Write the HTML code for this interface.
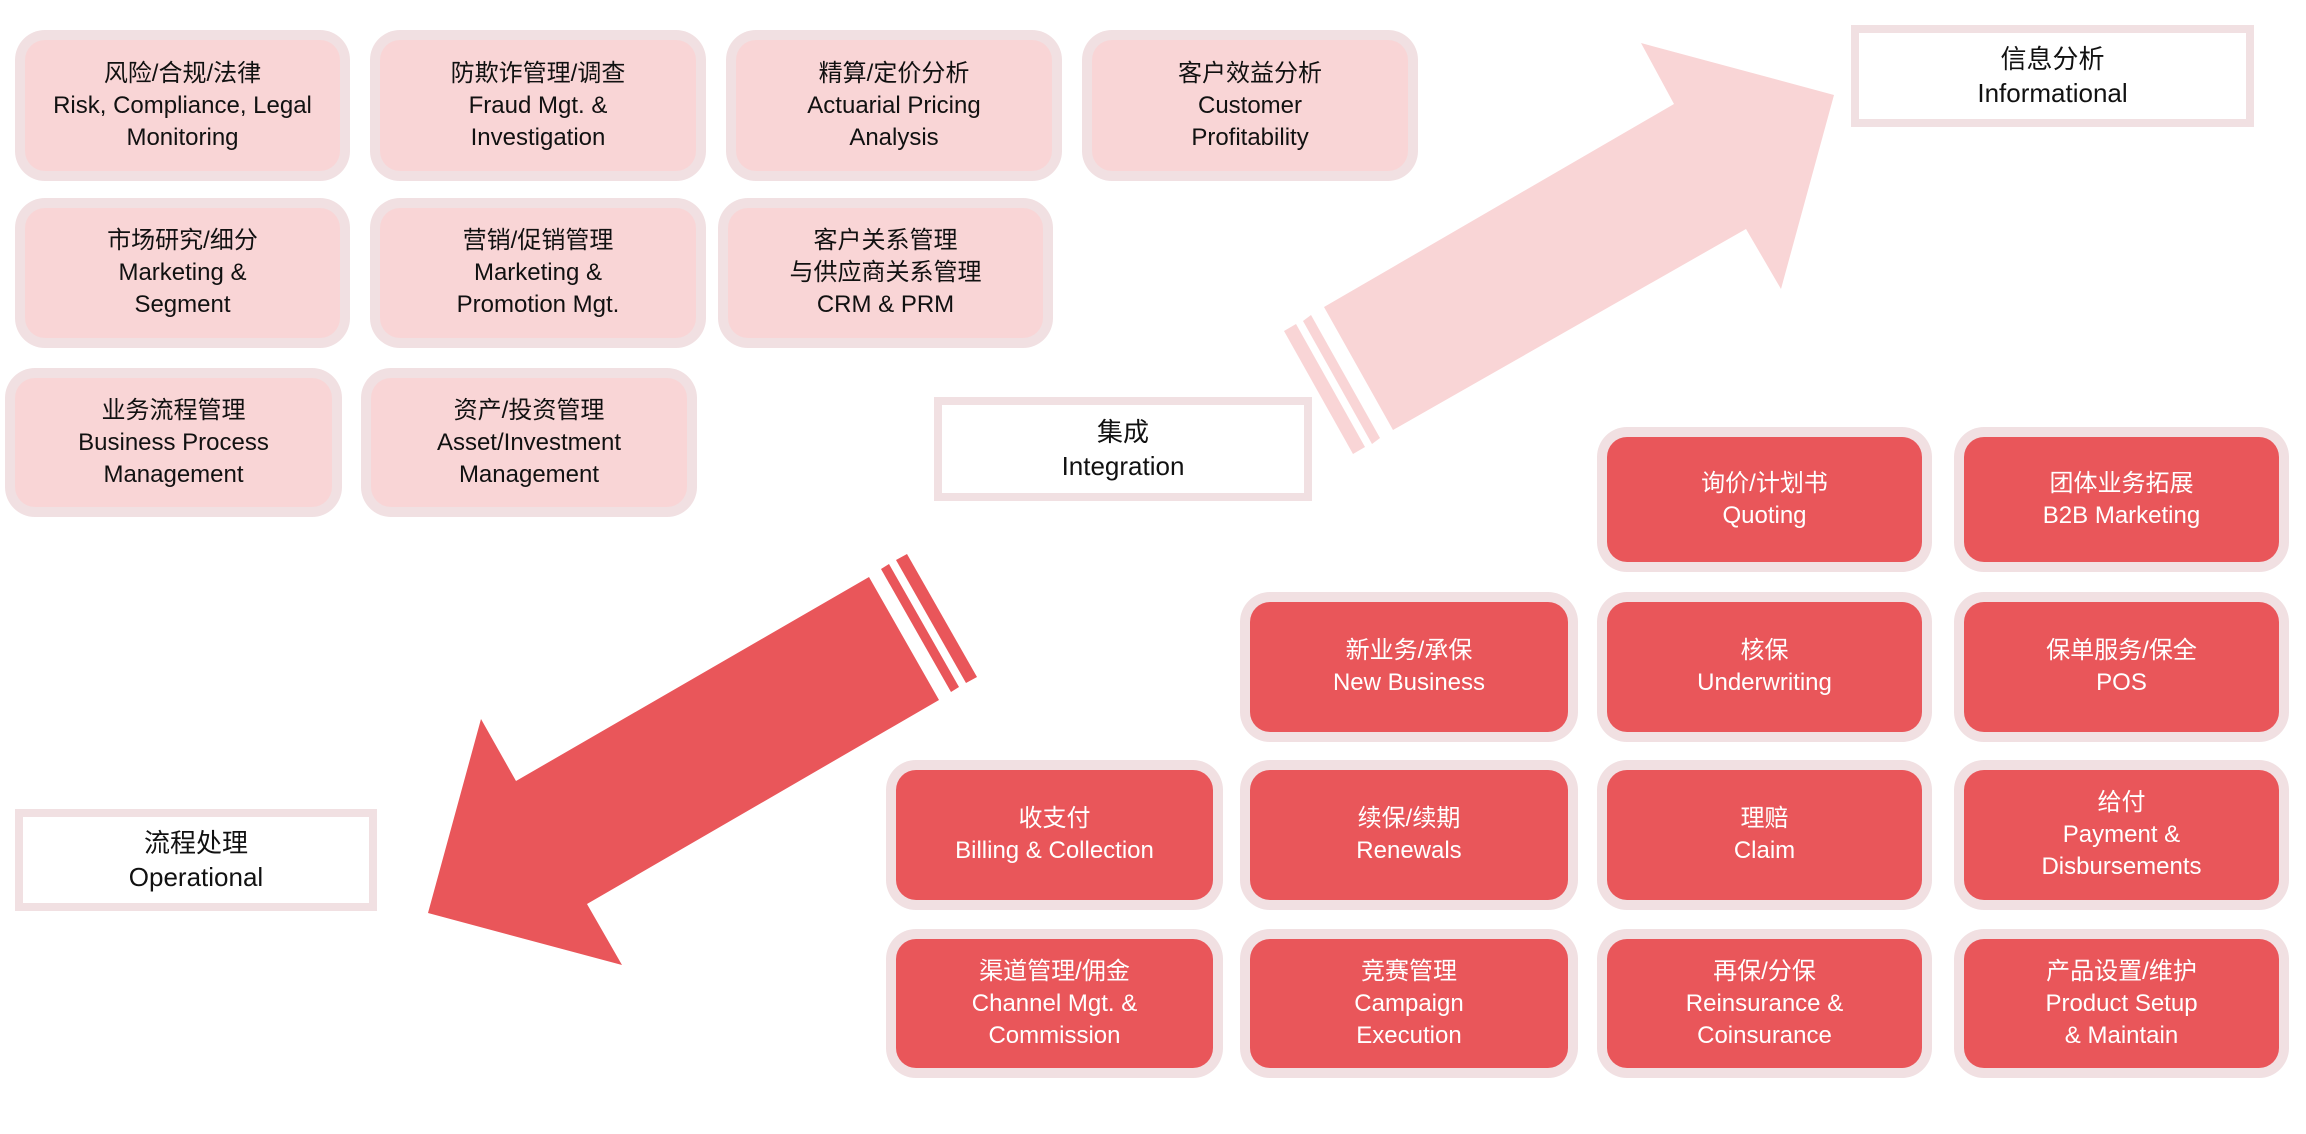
<!DOCTYPE html>
<html><head><meta charset="utf-8"><style>
body{margin:0;width:2306px;height:1134px;background:#fff;position:relative;overflow:hidden;font-family:"Liberation Sans","Noto Sans CJK SC",sans-serif;}
.b{position:absolute;box-sizing:border-box;background:#f1e0e2;border-radius:30px;padding:10px;}
.b>div{width:100%;height:100%;box-sizing:border-box;border-radius:20px;display:flex;align-items:center;justify-content:center;text-align:center;font-size:24px;line-height:32px;}
.p>div{background:#f9d5d6;color:#111;}
.r>div{background:#e9565a;color:#fff;}
.t{position:absolute;box-sizing:border-box;background:#f1e0e2;padding:8px;}
.t>div{width:100%;height:100%;background:#fff;display:flex;align-items:center;justify-content:center;text-align:center;font-size:26px;line-height:34px;color:#111;}
svg{position:absolute;left:0;top:0;}
</style></head><body>
<svg width="2306" height="1134">
<polygon fill="#f9d5d6" points="1834,95 1641,43 1674,104 1324,307 1393,430 1746,229 1781,289"/>
<polygon fill="#f9d5d6" points="1311,315 1380,438 1372,444 1303,321"/>
<polygon fill="#f9d5d6" points="1296,324 1365,447 1353,454 1284,331"/>
<polygon fill="#e9565a" points="428,913 481,719 516,781 869,577 939,700 587,904 622,965"/>
<polygon fill="#e9565a" points="881,569 951,692 959,687 889,564"/>
<polygon fill="#e9565a" points="896,560 966,683 977,677 907,554"/>
</svg>
<div class="b p" style="left:15px;top:30px;width:335px;height:151px"><div>风险/合规/法律<br>Risk, Compliance, Legal<br>Monitoring</div></div>
<div class="b p" style="left:370px;top:30px;width:336px;height:151px"><div>防欺诈管理/调查<br>Fraud Mgt. &amp;<br>Investigation</div></div>
<div class="b p" style="left:726px;top:30px;width:336px;height:151px"><div>精算/定价分析<br>Actuarial Pricing<br>Analysis</div></div>
<div class="b p" style="left:1082px;top:30px;width:336px;height:151px"><div>客户效益分析<br>Customer<br>Profitability</div></div>
<div class="b p" style="left:15px;top:198px;width:335px;height:150px"><div>市场研究/细分<br>Marketing &amp;<br>Segment</div></div>
<div class="b p" style="left:370px;top:198px;width:336px;height:150px"><div>营销/促销管理<br>Marketing &amp;<br>Promotion Mgt.</div></div>
<div class="b p" style="left:718px;top:198px;width:335px;height:150px"><div>客户关系管理<br>与供应商关系管理<br>CRM &amp; PRM</div></div>
<div class="b p" style="left:5px;top:368px;width:337px;height:149px"><div>业务流程管理<br>Business Process<br>Management</div></div>
<div class="b p" style="left:361px;top:368px;width:336px;height:149px"><div>资产/投资管理<br>Asset/Investment<br>Management</div></div>

<div class="t" style="left:1851px;top:25px;width:403px;height:102px"><div>信息分析<br>Informational</div></div>
<div class="t" style="left:934px;top:397px;width:378px;height:104px"><div>集成<br>Integration</div></div>
<div class="t" style="left:15px;top:809px;width:362px;height:102px"><div>流程处理<br>Operational</div></div>

<div class="b r" style="left:1597px;top:427px;width:335px;height:145px"><div>询价/计划书<br>Quoting</div></div>
<div class="b r" style="left:1954px;top:427px;width:335px;height:145px"><div>团体业务拓展<br>B2B Marketing</div></div>
<div class="b r" style="left:1240px;top:592px;width:338px;height:150px"><div>新业务/承保<br>New Business</div></div>
<div class="b r" style="left:1597px;top:592px;width:335px;height:150px"><div>核保<br>Underwriting</div></div>
<div class="b r" style="left:1954px;top:592px;width:335px;height:150px"><div>保单服务/保全<br>POS</div></div>
<div class="b r" style="left:886px;top:760px;width:337px;height:150px"><div>收支付<br>Billing &amp; Collection</div></div>
<div class="b r" style="left:1240px;top:760px;width:338px;height:150px"><div>续保/续期<br>Renewals</div></div>
<div class="b r" style="left:1597px;top:760px;width:335px;height:150px"><div>理赔<br>Claim</div></div>
<div class="b r" style="left:1954px;top:760px;width:335px;height:150px"><div>给付<br>Payment &amp;<br>Disbursements</div></div>
<div class="b r" style="left:886px;top:929px;width:337px;height:149px"><div>渠道管理/佣金<br>Channel Mgt. &amp;<br>Commission</div></div>
<div class="b r" style="left:1240px;top:929px;width:338px;height:149px"><div>竞赛管理<br>Campaign<br>Execution</div></div>
<div class="b r" style="left:1597px;top:929px;width:335px;height:149px"><div>再保/分保<br>Reinsurance &amp;<br>Coinsurance</div></div>
<div class="b r" style="left:1954px;top:929px;width:335px;height:149px"><div>产品设置/维护<br>Product Setup<br>&amp; Maintain</div></div>
</body></html>
